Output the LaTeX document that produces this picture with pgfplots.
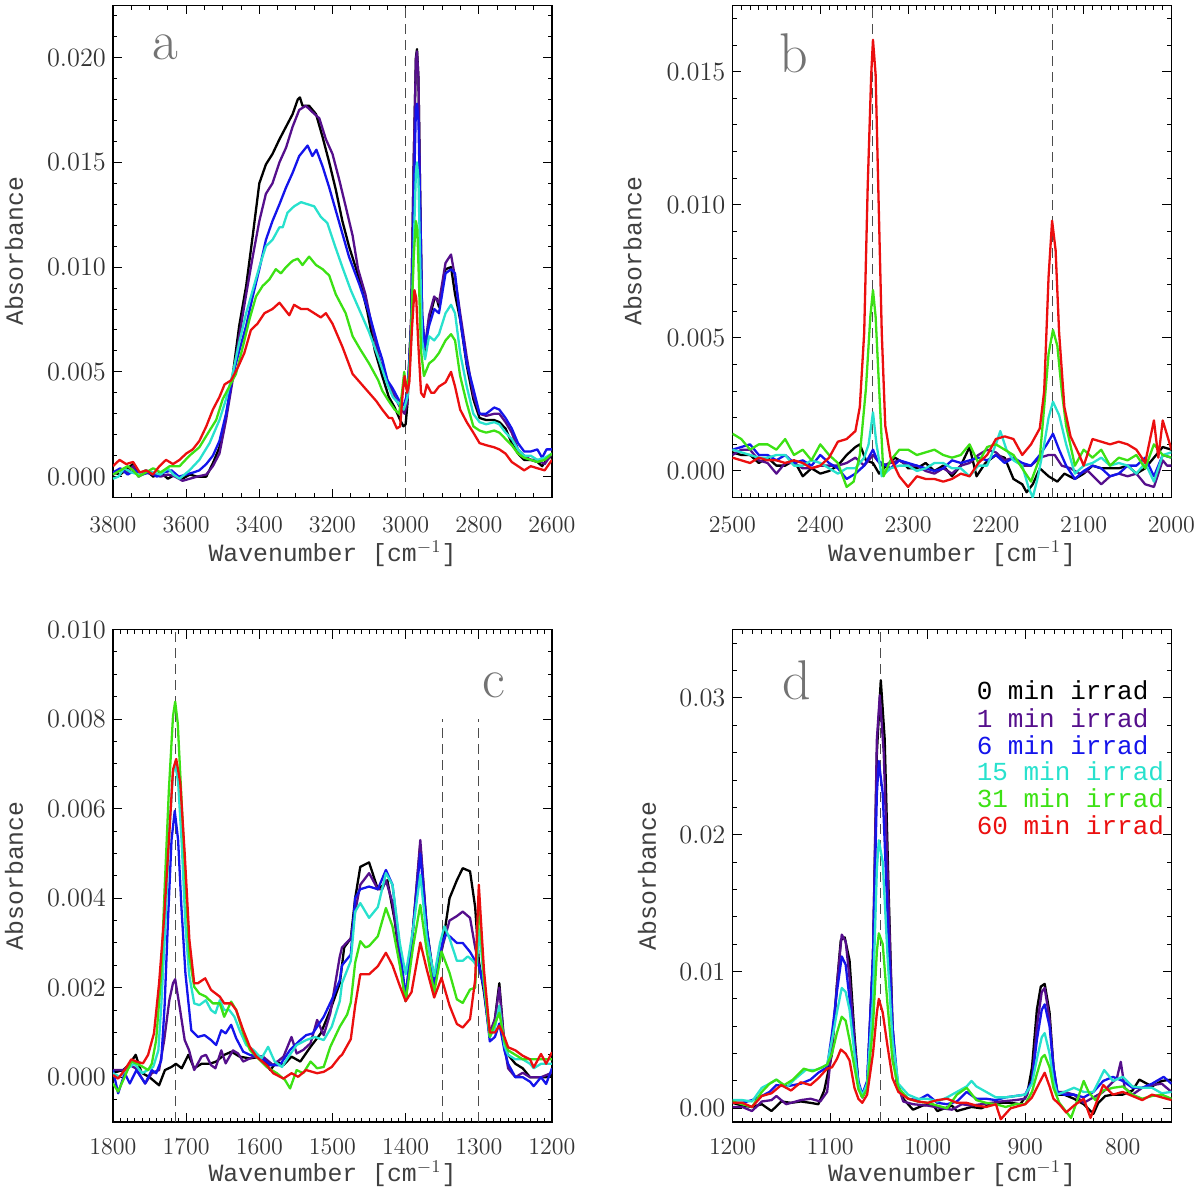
\documentclass[border=0pt]{standalone}
\usepackage{fontspec}
\newfontfamily\lmono{Liberation Mono}
\usepackage{pgfplots}
\pgfplotsset{compat=1.18}
\definecolor{cBlack}{RGB}{0,0,0}
\definecolor{cPurple}{RGB}{85,15,140}
\definecolor{cBlue}{RGB}{20,20,235}
\definecolor{cCyan}{RGB}{40,225,205}
\definecolor{cGreen}{RGB}{60,225,20}
\definecolor{cRed}{RGB}{235,15,15}
\tikzset{plab/.style={font=\fontsize{28}{30}\selectfont, text=black!55, inner sep=0pt}}
\pgfplotsset{
  spec/.style={
    scale only axis, width=219.5pt, height=246.2pt, x dir=reverse,
    axis line style={line width=0.6pt},
    tick style={black, line width=0.5pt},
    major tick length=4.5pt, minor tick length=2.2pt,
    tick align=inside,
    scaled y ticks=false, scaled x ticks=false,
    /pgf/number format/1000 sep={},
    ticklabel style={font=\fontsize{13.2}{15}\selectfont, text=black!80},
    label style={font=\lmono\fontsize{12.4}{14}\selectfont, text=black!75},
    every axis plot/.append style={line width=1.15pt, line join=round, no markers},
    clip=true,
  },
  dashline/.style={black!70, line width=0.5pt, dash pattern=on 5pt off 3pt, forget plot},
}
\begin{document}
\begin{tikzpicture}
\path[use as bounding box] (0,0) rectangle (600pt,597pt);
% ---------------- panel a
\begin{axis}[spec, at={(56.5pt,348.2pt)}, anchor=south west,
  xmin=2600, xmax=3800, ymin=-0.001, ymax=0.0225,
  xtick={2600,2800,3000,3200,3400,3600,3800},
  minor xtick={2650,2700,2750,2850,2900,2950,3050,3100,3150,3250,3300,3350,3450,3500,3550,3650,3700,3750},
  ytick={0,0.005,0.01,0.015,0.02}, yticklabels={0.000,0.005,0.010,0.015,0.020},
  minor ytick={-0.001,0.001,0.002,0.003,0.004,0.006,0.007,0.008,0.009,0.011,0.012,0.013,0.014,0.016,0.017,0.018,0.019,0.021,0.022},
  xticklabel style={yshift=-6.2pt},
  xlabel={Wavenumber [cm$^{-1}$]}, ylabel={Absorbance},
  xlabel style={at={(axis description cs:0.5,-0.1137)}, anchor=center},
  ylabel style={at={(axis description cs:-0.2255,0.5)}, anchor=center},
]
\addplot[dashline] coordinates {(3000,-0.001) (3000,0.0225)};
\addplot[cBlack] coordinates {(3800,0.0002) (3780,0.0001) (3760,0.0004) (3745,0.0006) (3730,0.0001) (3710,0.0003) (3690,0.0) (3670,0.0002) (3650,-0.0001) (3630,0.0001) (3610,-0.0001) (3590,0.0001) (3570,0.0) (3545,0.0) (3527,0.00064) (3509,0.0014) (3491,0.0029) (3473,0.0048) (3455,0.0072) (3436,0.0091) (3418,0.0115) (3400,0.014) (3382,0.0149) (3364,0.0154) (3345,0.0161) (3327,0.0167) (3309,0.0173) (3295,0.018) (3289,0.0181) (3282,0.0177) (3264,0.0177) (3245,0.0173) (3227,0.0162) (3209,0.015) (3191,0.0137) (3173,0.0122) (3155,0.011) (3126,0.0094) (3105,0.0079) (3084,0.0060) (3064,0.0048) (3046,0.0038) (3030,0.0033) (3015,0.0027) (3006,0.0024) (3000,0.0025) (2995,0.0035) (2985,0.0075) (2978,0.015) (2972,0.0200) (2969,0.0204) (2965,0.019) (2960,0.013) (2955,0.0075) (2948,0.0059) (2936,0.0075) (2922,0.00845) (2915,0.0085) (2909,0.0081) (2891,0.0099) (2876,0.0100) (2865,0.0087) (2851,0.0075) (2833,0.0053) (2815,0.0037) (2798,0.0028) (2780,0.0027) (2758,0.0027) (2744,0.0026) (2727,0.0023) (2710,0.0016) (2693,0.0011) (2676,0.0008) (2658,0.0008) (2640,0.0007) (2627,0.0005) (2615,0.0008) (2600,0.0010)};
\addplot[cPurple] coordinates {(3800,0.0001) (3780,0.0003) (3760,0.0002) (3745,0.0005) (3730,0.0000) (3710,0.0002) (3690,0.0001) (3670,0.0000) (3650,0.0001) (3630,0.0000) (3610,-0.0002) (3590,-0.0001) (3570,0.0000) (3545,0.0001) (3527,0.0005) (3509,0.0011) (3491,0.0027) (3473,0.0046) (3455,0.0067) (3436,0.0087) (3418,0.0105) (3400,0.0122) (3382,0.0135) (3364,0.014) (3345,0.015) (3327,0.0157) (3309,0.0167) (3291,0.0175) (3273,0.0177) (3255,0.0174) (3236,0.0171) (3218,0.0161) (3200,0.0154) (3182,0.0142) (3164,0.0129) (3145,0.0115) (3130,0.0099) (3110,0.0087) (3090,0.0070) (3070,0.0055) (3064,0.0053) (3046,0.0044) (3030,0.0038) (3015,0.0033) (3003,0.0030) (2995,0.0036) (2985,0.0075) (2978,0.015) (2972,0.0199) (2969,0.0203) (2965,0.019) (2960,0.013) (2955,0.0076) (2948,0.0061) (2936,0.0077) (2922,0.0086) (2909,0.0083) (2891,0.0102) (2876,0.0106) (2865,0.0095) (2851,0.0078) (2833,0.0057) (2815,0.0039) (2798,0.0030) (2780,0.0029) (2758,0.0030) (2744,0.0030) (2727,0.0026) (2710,0.0021) (2693,0.0013) (2676,0.0010) (2658,0.0008) (2640,0.0008) (2620,0.0006) (2600,0.0011)};
\addplot[cBlue] coordinates {(3800,0.0002) (3780,0.0004) (3760,0.0001) (3740,0.0003) (3720,0.0001) (3700,0.0002) (3680,0.0) (3660,0.0002) (3640,0.0003) (3620,0.0000) (3600,0.0001) (3580,0.0002) (3564,0.0003) (3545,0.0006) (3527,0.0010) (3509,0.0017) (3491,0.0030) (3473,0.0048) (3455,0.0060) (3436,0.0072) (3418,0.0086) (3400,0.0099) (3382,0.0113) (3364,0.0122) (3345,0.0130) (3327,0.0138) (3309,0.0145) (3291,0.0153) (3268,0.0158) (3255,0.0153) (3244,0.0156) (3227,0.0148) (3209,0.0138) (3191,0.0127) (3173,0.0116) (3155,0.0105) (3125,0.0091) (3100,0.0078) (3075,0.0062) (3064,0.0056) (3050,0.0046) (3035,0.0042) (3020,0.0037) (3005,0.0034) (2995,0.0040) (2985,0.0072) (2978,0.013) (2972,0.0176) (2969,0.0178) (2965,0.017) (2960,0.0125) (2955,0.0078) (2948,0.0062) (2936,0.0072) (2922,0.0080) (2909,0.0078) (2891,0.0097) (2876,0.0099) (2865,0.0097) (2851,0.0075) (2833,0.0054) (2815,0.0042) (2798,0.0030) (2780,0.0030) (2758,0.0033) (2744,0.0032) (2727,0.0028) (2710,0.0023) (2693,0.0016) (2676,0.0012) (2658,0.0012) (2640,0.0013) (2627,0.0009) (2615,0.0013) (2600,0.0013)};
\addplot[cCyan] coordinates {(3800,-0.0001) (3785,0.0) (3770,0.0004) (3750,0.0002) (3730,0.0001) (3710,0.0003) (3690,0.0002) (3670,0.0001) (3650,0.0004) (3635,0.0001) (3618,-0.0001) (3591,0.0003) (3564,0.0008) (3536,0.0016) (3509,0.0027) (3491,0.0037) (3473,0.0049) (3455,0.0064) (3436,0.0078) (3418,0.0089) (3400,0.0100) (3382,0.0110) (3364,0.0113) (3345,0.0119) (3336,0.0119) (3323,0.0126) (3305,0.0129) (3286,0.0131) (3268,0.0130) (3250,0.0129) (3232,0.0124) (3214,0.0121) (3195,0.0111) (3173,0.0100) (3150,0.0089) (3125,0.0079) (3100,0.0069) (3075,0.0057) (3050,0.0044) (3035,0.0038) (3020,0.0035) (3005,0.0032) (2995,0.0038) (2985,0.0065) (2978,0.011) (2972,0.0145) (2969,0.0150) (2965,0.0142) (2960,0.010) (2955,0.0065) (2947,0.0056) (2936,0.0067) (2922,0.0065) (2909,0.0068) (2891,0.0078) (2876,0.0082) (2865,0.0078) (2851,0.0059) (2833,0.0043) (2815,0.0030) (2798,0.0026) (2780,0.0025) (2758,0.0026) (2744,0.0025) (2727,0.0021) (2710,0.0018) (2693,0.0013) (2676,0.0010) (2658,0.0010) (2640,0.0008) (2620,0.0009) (2600,0.0011)};
\addplot[cGreen] coordinates {(3800,0.0001) (3780,0.0003) (3760,0.0005) (3745,0.0003) (3730,0.0) (3710,0.0002) (3690,0.0004) (3670,0.0002) (3645,0.0005) (3618,0.0005) (3591,0.0010) (3564,0.0014) (3536,0.0022) (3518,0.0027) (3500,0.0037) (3482,0.0043) (3464,0.0049) (3445,0.0062) (3427,0.0075) (3409,0.0086) (3391,0.0091) (3373,0.0094) (3355,0.0099) (3341,0.0097) (3327,0.0100) (3309,0.0103) (3295,0.0104) (3282,0.0101) (3264,0.0105) (3245,0.0101) (3227,0.0099) (3209,0.0096) (3191,0.0087) (3164,0.0078) (3145,0.0067) (3125,0.0061) (3100,0.0054) (3075,0.0046) (3064,0.0041) (3046,0.0036) (3030,0.0032) (3018,0.0030) (3010,0.0040) (3004,0.0050) (2998,0.0042) (2990,0.0048) (2984,0.0075) (2978,0.0105) (2972,0.0122) (2968,0.0118) (2964,0.0095) (2958,0.0060) (2950,0.0048) (2936,0.0054) (2922,0.0056) (2909,0.0059) (2891,0.0065) (2876,0.0068) (2865,0.0065) (2851,0.0048) (2833,0.0035) (2815,0.0024) (2798,0.0022) (2780,0.0021) (2758,0.0022) (2744,0.0021) (2727,0.0018) (2710,0.0015) (2693,0.0011) (2676,0.0009) (2658,0.0008) (2640,0.0007) (2620,0.0008) (2600,0.0011)};
\addplot[cRed] coordinates {(3800,0.0005) (3782,0.0008) (3764,0.0006) (3745,0.0007) (3727,0.0002) (3709,0.0003) (3691,0.0001) (3673,0.0005) (3655,0.0008) (3636,0.0006) (3618,0.0008) (3600,0.0011) (3582,0.0013) (3564,0.0017) (3545,0.0024) (3527,0.0032) (3509,0.0038) (3495,0.0044) (3477,0.0046) (3459,0.0052) (3441,0.0059) (3423,0.0070) (3405,0.0073) (3386,0.0078) (3364,0.0080) (3345,0.0083) (3336,0.0081) (3318,0.0077) (3305,0.0082) (3286,0.0080) (3268,0.0080) (3250,0.0078) (3232,0.0076) (3218,0.0078) (3200,0.0073) (3173,0.0062) (3145,0.0049) (3125,0.0045) (3100,0.0040) (3080,0.0036) (3064,0.0032) (3046,0.0028) (3037,0.0028) (3024,0.0023) (3015,0.0024) (3008,0.0040) (3003,0.0048) (2996,0.0040) (2990,0.0045) (2983,0.0070) (2976,0.0089) (2971,0.0085) (2966,0.0065) (2958,0.0040) (2950,0.0038) (2942,0.0044) (2930,0.0040) (2922,0.0040) (2909,0.0043) (2891,0.0045) (2876,0.0050) (2865,0.0043) (2851,0.0032) (2833,0.0026) (2815,0.0021) (2798,0.0016) (2780,0.0015) (2758,0.0014) (2744,0.0013) (2727,0.0011) (2710,0.0007) (2693,0.0005) (2676,0.0003) (2658,0.0005) (2640,0.0004) (2620,0.0003) (2600,0.0008)};
\node[plab] at (axis cs:3657,0.0205) {a};
\end{axis}
% ---------------- panel b
\begin{axis}[spec, at={(366.25pt,348.2pt)}, anchor=south west,
  xmin=2000, xmax=2500, ymin=-0.001, ymax=0.0175,
  xtick={2000,2100,2200,2300,2400,2500},
  minor xtick={2010,2020,...,2490},
  ytick={0,0.005,0.01,0.015}, yticklabels={0.000,0.005,0.010,0.015},
  minor ytick={0.001,0.002,0.003,0.004,0.006,0.007,0.008,0.009,0.011,0.012,0.013,0.014,0.016,0.017},
  xticklabel style={yshift=-6.2pt},
  xlabel={Wavenumber [cm$^{-1}$]}, ylabel={Absorbance},
  xlabel style={at={(axis description cs:0.5,-0.1137)}, anchor=center},
  ylabel style={at={(axis description cs:-0.228,0.5)}, anchor=center},
]
\addplot[dashline] coordinates {(2340.5,-0.001) (2340.5,0.0175)};
\addplot[dashline] coordinates {(2135,-0.001) (2135,0.0175)};
\addplot[cBlack] coordinates {(2500,0.0007) (2490,0.0006) (2480,0.0006) (2470,0.0003) (2460,0.0005) (2450,0.0002) (2440,0.0002) (2430,0.0004) (2420,-0.0002) (2410,0.0001) (2400,-0.0001) (2390,0.0000) (2380,0.0002) (2370,0.0006) (2360,0.0009) (2355,0.0010) (2348,0.0004) (2340,0.0003) (2333,-0.0001) (2325,0.0002) (2315,0.0005) (2305,0.0003) (2300,0.0001) (2290,0.0001) (2280,0.0003) (2270,0.0000) (2260,0.0002) (2250,-0.0002) (2240,0.0002) (2230,0.0009) (2222,-0.0002) (2212,0.0003) (2200,0.0006) (2190,0.0005) (2180,-0.0003) (2170,-0.0005) (2165,-0.0008) (2158,-0.0005) (2150,0.0001) (2140,-0.0002) (2130,-0.0004) (2122,-0.0001) (2110,-0.0003) (2100,-0.0001) (2090,0.0002) (2080,0.0001) (2070,0.0001) (2060,0.0001) (2050,0.0002) (2040,-0.0001) (2030,0.0001) (2020,0.0005) (2010,0.0009) (2000,0.0008)};
\addplot[cPurple] coordinates {(2500,0.0006) (2490,0.0008) (2480,0.0008) (2470,0.0004) (2460,0.0003) (2450,-0.0001) (2440,0.0003) (2430,0.0003) (2420,0.0001) (2410,0.0001) (2400,0.0002) (2390,0.0002) (2380,0.0002) (2370,0.0003) (2360,0.0005) (2350,0.0002) (2340,0.0006) (2330,0.0002) (2320,0.0003) (2310,0.0004) (2300,0.0002) (2290,0.0002) (2280,0.0000) (2270,-0.0001) (2260,0.0001) (2250,-0.0001) (2240,0.0002) (2230,0.0003) (2220,0.0006) (2210,0.0008) (2200,0.0007) (2190,0.0004) (2180,0.0005) (2170,0.0002) (2160,0.0002) (2150,0.0005) (2140,0.0006) (2133,0.0006) (2125,0.0002) (2115,0.0001) (2105,-0.0001) (2095,0.0000) (2080,-0.0005) (2070,-0.0002) (2060,-0.0001) (2050,-0.0002) (2040,-0.0001) (2030,-0.0005) (2020,-0.0006) (2010,0.0004) (2005,0.0002) (2000,0.0002)};
\addplot[cBlue] coordinates {(2500,0.0008) (2490,0.0009) (2480,0.0010) (2470,0.0006) (2460,0.0006) (2450,0.0004) (2440,0.0006) (2430,0.0003) (2420,0.0004) (2410,0.0002) (2400,0.0006) (2390,0.0003) (2380,0.0001) (2370,-0.0003) (2360,-0.0001) (2350,0.0002) (2340,0.0008) (2335,0.0004) (2330,0.0003) (2320,0.0001) (2310,0.0004) (2300,0.0003) (2290,0.0002) (2280,0.0001) (2270,0.0000) (2260,0.0001) (2250,0.0004) (2240,0.0003) (2230,0.0004) (2220,0.0005) (2210,0.0004) (2200,0.0006) (2190,0.0003) (2180,0.0005) (2170,0.0003) (2160,0.0002) (2150,0.0006) (2142,0.0010) (2135,0.0014) (2128,0.0008) (2120,0.0002) (2110,-0.0003) (2100,0.0000) (2090,0.0002) (2080,0.0001) (2070,-0.0002) (2060,-0.0001) (2050,0.0002) (2040,0.0002) (2030,0.0005) (2020,-0.0002) (2010,0.0006) (2000,0.0005)};
\addplot[cCyan] coordinates {(2500,0.0008) (2490,0.0007) (2480,0.0006) (2470,0.0005) (2460,0.0005) (2450,0.0006) (2440,0.0006) (2430,0.0002) (2420,0.0002) (2410,0.0004) (2400,0.0003) (2390,0.0001) (2380,-0.0001) (2370,0.0001) (2360,0.0001) (2350,0.0005) (2345,0.0010) (2340,0.0022) (2336,0.0010) (2330,-0.0002) (2320,0.0001) (2310,0.0002) (2300,0.0002) (2290,0.0000) (2280,0.0001) (2270,0.0003) (2260,0.0003) (2250,0.0001) (2240,0.0001) (2230,-0.0002) (2220,0.0002) (2210,0.0002) (2200,0.0010) (2195,0.0015) (2188,0.0008) (2180,0.0004) (2170,0.0002) (2163,-0.0006) (2158,-0.0010) (2152,-0.0002) (2145,0.0010) (2140,0.0020) (2135,0.0026) (2128,0.0021) (2120,0.0010) (2110,-0.0001) (2100,0.0002) (2090,0.0003) (2080,0.0005) (2070,0.0002) (2060,0.0003) (2050,0.0002) (2040,-0.0001) (2030,0.0003) (2020,-0.0004) (2010,0.0006) (2000,0.0007)};
\addplot[cGreen] coordinates {(2500,0.0014) (2490,0.0012) (2480,0.0008) (2470,0.0010) (2460,0.0010) (2450,0.0008) (2440,0.0012) (2430,0.0006) (2420,0.0008) (2410,0.0004) (2400,0.0010) (2390,0.0006) (2380,0.0003) (2370,-0.0006) (2362,-0.0004) (2355,0.0006) (2348,0.0031) (2343,0.0058) (2340,0.0068) (2337,0.0058) (2333,0.0031) (2328,-0.0002) (2320,0.0004) (2310,0.0008) (2300,0.0008) (2290,0.0006) (2280,0.0007) (2270,0.0008) (2260,0.0006) (2250,0.0005) (2240,0.0006) (2230,0.0010) (2220,0.0003) (2210,0.0009) (2200,0.0010) (2190,0.0008) (2180,0.0006) (2170,0.0001) (2160,-0.0004) (2150,0.0005) (2145,0.0024) (2140,0.0044) (2135,0.0053) (2130,0.0047) (2125,0.0030) (2120,0.0017) (2110,0.0002) (2100,0.0008) (2090,0.0005) (2080,0.0008) (2070,0.0002) (2060,0.0005) (2050,0.0004) (2040,0.0006) (2030,0.0001) (2020,0.0010) (2010,0.0006) (2000,0.0005)};
\addplot[cRed] coordinates {(2500,0.0005) (2490,0.0004) (2480,0.0003) (2470,0.0005) (2460,0.0004) (2450,0.0004) (2440,0.0003) (2430,0.0004) (2420,0.0003) (2410,0.0001) (2400,0.0002) (2390,0.0005) (2380,0.0011) (2370,0.0012) (2360,0.0015) (2355,0.0024) (2350,0.0052) (2346,0.0107) (2342,0.0149) (2340,0.0162) (2337,0.0149) (2334,0.0107) (2330,0.0052) (2326,0.0017) (2320,0.0005) (2310,-0.0002) (2300,-0.0006) (2290,-0.0002) (2280,-0.0003) (2270,-0.0003) (2260,-0.0004) (2250,-0.0003) (2240,-0.0001) (2230,-0.0002) (2220,0.0003) (2210,0.0006) (2200,0.0012) (2190,0.0013) (2180,0.0012) (2170,0.0006) (2160,0.0010) (2150,0.0016) (2145,0.0030) (2140,0.0073) (2136,0.0094) (2132,0.0083) (2128,0.0052) (2122,0.0024) (2115,0.0013) (2105,0.0006) (2100,0.0002) (2090,0.0012) (2080,0.0011) (2070,0.0010) (2060,0.0011) (2050,0.0010) (2040,0.0008) (2030,0.0003) (2020,0.0019) (2015,0.0005) (2010,0.0019) (2000,0.0008)};
\node[plab] at (axis cs:2430,0.0157) {b};
\end{axis}
% ---------------- panel c
\begin{axis}[spec, at={(56.5pt,36pt)}, anchor=south west,
  xmin=1200, xmax=1800, ymin=-0.001, ymax=0.010,
  xtick={1200,1300,1400,1500,1600,1700,1800},
  minor xtick={1210,1220,...,1790},
  ytick={0,0.002,0.004,0.006,0.008,0.010}, yticklabels={0.000,0.002,0.004,0.006,0.008,0.010},
  minor ytick={-0.0005,0.0005,0.001,0.0015,0.0025,0.003,0.0035,0.0045,0.005,0.0055,0.0065,0.007,0.0075,0.0085,0.009,0.0095},
  xticklabel style={yshift=-5pt},
  xlabel={Wavenumber [cm$^{-1}$]}, ylabel={Absorbance},
  xlabel style={at={(axis description cs:0.5,-0.1056)}, anchor=center},
  ylabel style={at={(axis description cs:-0.2255,0.5)}, anchor=center},
]
\addplot[dashline] coordinates {(1715,-0.001) (1715,0.010)};
\addplot[dashline] coordinates {(1349,-0.001) (1349,0.0080)};
\addplot[dashline] coordinates {(1301,-0.001) (1301,0.0080)};
\addplot[cBlack] coordinates {(1800,0.0001) (1786,0.00016) (1777,0.0003) (1769,0.0005) (1761,0.0001) (1750,0.0000) (1737,-0.00018) (1729,0.00016) (1720,0.00023) (1714,0.0003) (1706,0.0002) (1697,0.0005) (1689,0.0002) (1679,0.0003) (1668,0.0003) (1659,0.00035) (1648,0.0005) (1638,0.00057) (1627,0.00046) (1613,0.00042) (1597,0.00046) (1585,0.00016) (1576,0.00035) (1567,0.00027) (1556,0.00046) (1544,0.00035) (1530,0.00068) (1516,0.00098) (1503,0.0015) (1490,0.0021) (1484,0.0029) (1475,0.0031) (1469,0.0040) (1462,0.0047) (1450,0.0048) (1438,0.0042) (1430,0.0043) (1425,0.0044) (1415,0.0035) (1408,0.0026) (1400,0.0017) (1390,0.0033) (1380,0.0052) (1371,0.0033) (1361,0.00215) (1350,0.0029) (1340,0.0040) (1330,0.0044) (1322,0.00467) (1312,0.0046) (1305,0.0038) (1300,0.0026) (1293,0.0019) (1285,0.0009) (1278,0.0013) (1272,0.0021) (1265,0.0007) (1260,0.0005) (1250,0.0003) (1240,0.0002) (1230,0.0) (1225,0.0) (1215,0.0) (1208,0.0) (1200,0.00005)};
\addplot[cPurple] coordinates {(1800,0.00016) (1786,0.00016) (1777,0.00027) (1769,0.0002) (1756,-0.00014) (1747,0.00009) (1737,0.00016) (1730,0.00083) (1723,0.00172) (1718,0.0021) (1715,0.00219) (1709,0.00158) (1702,0.00083) (1696,0.0006) (1689,0.00016) (1679,0.00046) (1673,0.0005) (1666,0.00027) (1660,0.0002) (1652,0.0006) (1646,0.00031) (1636,0.0006) (1629,0.00053) (1622,0.00035) (1608,0.00046) (1595,0.00046) (1581,0.00027) (1567,0.00046) (1556,0.0009) (1549,0.00053) (1540,0.00061) (1530,0.00076) (1521,0.00128) (1512,0.00094) (1503,0.00143) (1490,0.0027) (1487,0.0029) (1475,0.0031) (1469,0.0037) (1462,0.0043) (1450,0.00456) (1438,0.0042) (1432,0.0042) (1427,0.0044) (1418,0.0039) (1408,0.0027) (1400,0.0017) (1390,0.0033) (1380,0.0053) (1371,0.0033) (1361,0.0020) (1350,0.0029) (1340,0.0035) (1330,0.0036) (1322,0.0037) (1312,0.00356) (1305,0.0029) (1300,0.0025) (1293,0.0020) (1285,0.0010) (1278,0.0013) (1272,0.0020) (1265,0.0007) (1260,0.0002) (1250,0.0000) (1240,0.0001) (1230,0.0000) (1225,0.0) (1215,0.0) (1200,0.0001)};
\addplot[cBlue] coordinates {(1800,0.00016) (1793,-0.00036) (1784,0.00009) (1777,-0.00014) (1768,0.00016) (1756,-0.00014) (1747,0.00016) (1741,0.00009) (1734,0.00038) (1729.5,0.00158) (1725,0.00344) (1720,0.0053) (1715.6,0.00595) (1711,0.0053) (1706.5,0.00381) (1701,0.00232) (1693,0.00105) (1684,0.0009) (1675,0.00094) (1666,0.00083) (1659,0.00072) (1652,0.00105) (1646,0.00098) (1638.5,0.00117) (1631.6,0.00087) (1622,0.00057) (1613,0.0005) (1599,0.00046) (1585,0.00027) (1572,0.00027) (1558,0.00061) (1544,0.00083) (1536,0.00094) (1527,0.00098) (1512,0.00135) (1499,0.0018) (1490,0.00217) (1487,0.0025) (1475,0.00274) (1469,0.0040) (1462,0.0042) (1450,0.00426) (1438,0.0042) (1427,0.00463) (1418,0.0043) (1408,0.0029) (1400,0.0018) (1390,0.0033) (1380,0.0050) (1371,0.0033) (1361,0.0021) (1350,0.0030) (1345,0.0032) (1340,0.00315) (1330,0.0030) (1322,0.0030) (1312,0.0028) (1305,0.0026) (1300,0.0025) (1293,0.0020) (1285,0.0008) (1278,0.0009) (1272,0.0012) (1265,0.0006) (1260,0.0003) (1250,0.0) (1240,0.0) (1230,-0.0001) (1225,-0.0002) (1215,0.0) (1208,-0.00015) (1200,0.0002)};
\addplot[cCyan] coordinates {(1800,0.00009) (1791,0.00001) (1782,0.00016) (1771,0.00031) (1760,0.00009) (1745,0.00023) (1738,0.0006) (1734,0.0016) (1729,0.0032) (1723,0.0055) (1718,0.0068) (1715,0.0070) (1711,0.0066) (1706,0.0052) (1701,0.0034) (1696,0.0023) (1689,0.00165) (1682,0.00161) (1673,0.00172) (1666,0.0015) (1660,0.00143) (1654,0.00172) (1648,0.0015) (1641,0.0015) (1634,0.00135) (1627,0.00105) (1618,0.00072) (1608,0.00061) (1597,0.00042) (1588,0.00068) (1579,0.00035) (1569,0.00023) (1560,0.00046) (1549,0.00072) (1536,0.00083) (1524,0.0009) (1512,0.00083) (1501,0.00113) (1490,0.0017) (1487,0.0021) (1475,0.0026) (1469,0.0037) (1462,0.00389) (1450,0.00356) (1438,0.0038) (1427,0.00456) (1418,0.0043) (1408,0.0030) (1400,0.0023) (1390,0.0033) (1380,0.00452) (1371,0.0031) (1361,0.00226) (1353,0.0030) (1347,0.00337) (1340,0.0031) (1330,0.0026) (1322,0.0026) (1315,0.0027) (1308,0.0026) (1303,0.0025) (1299,0.0033) (1293,0.0021) (1285,0.0009) (1278,0.0011) (1272,0.0016) (1265,0.0007) (1260,0.0005) (1250,0.0004) (1240,0.0004) (1230,0.0003) (1225,0.0002) (1215,0.0003) (1200,0.0003)};
\addplot[cGreen] coordinates {(1800,-0.00014) (1793,-0.00032) (1784,0.00001) (1775,0.00035) (1768,0.00031) (1759,0.00023) (1752,0.00016) (1747,0.0003) (1741,0.00083) (1734,0.00232) (1729.5,0.00418) (1723.6,0.00642) (1718,0.00806) (1715,0.00839) (1711.5,0.00791) (1707,0.00642) (1701,0.00441) (1695.6,0.00269) (1689,0.00202) (1682,0.00187) (1673,0.0018) (1663.5,0.00165) (1654,0.00165) (1648,0.00135) (1638.5,0.00169) (1631.6,0.0015) (1622,0.00098) (1613,0.00061) (1604,0.00046) (1590,0.00023) (1576,0.00009) (1565,-0.00006) (1558,-0.00025) (1549,0.00016) (1540,0.00009) (1530,0.00035) (1521,0.0002) (1512,0.00023) (1503,0.00068) (1490,0.00113) (1480,0.0014) (1475,0.00167) (1469,0.00256) (1462,0.00304) (1455,0.0029) (1450,0.00293) (1438,0.00315) (1427,0.00378) (1418,0.00337) (1408,0.0025) (1400,0.0017) (1390,0.0029) (1380,0.00385) (1371,0.0028) (1361,0.00189) (1351,0.00281) (1340,0.00233) (1330,0.00174) (1322,0.00166) (1312,0.00196) (1305,0.0020) (1300,0.00393) (1293,0.0022) (1285,0.0009) (1278,0.0012) (1272,0.00144) (1265,0.0008) (1260,0.0006) (1250,0.0005) (1240,0.0004) (1230,0.0004) (1225,0.0004) (1215,0.0004) (1200,0.0004)};
\addplot[cRed] coordinates {(1800,0.00005) (1793,-0.00003) (1784,0.00016) (1775,0.0004) (1768,0.00035) (1759,0.00031) (1752,0.0005) (1744,0.00098) (1737,0.0021) (1730,0.00359) (1723,0.00545) (1718,0.00687) (1713.6,0.00711) (1708,0.00657) (1702,0.005) (1695.6,0.00307) (1689,0.0021) (1684,0.0021) (1674,0.00221) (1666,0.00195) (1654,0.0018) (1648,0.00165) (1638.5,0.00165) (1631.6,0.0015) (1622,0.00105) (1613,0.00068) (1604,0.00046) (1590,0.00027) (1581,0.00009) (1567,-0.00003) (1556,0.00009) (1547,0.00001) (1536,0.00016) (1521,0.00009) (1512,0.00012) (1501,0.00023) (1490,0.00046) (1487,0.0005) (1475,0.00085) (1469,0.0016) (1462,0.0023) (1450,0.0023) (1438,0.00248) (1427,0.00278) (1418,0.0025) (1408,0.00204) (1400,0.0017) (1392,0.0019) (1380,0.00301) (1371,0.0024) (1361,0.00178) (1351,0.00222) (1340,0.0016) (1330,0.00119) (1322,0.00111) (1312,0.0013) (1305,0.00218) (1300,0.0043) (1296,0.0032) (1293,0.0024) (1285,0.0010) (1278,0.0010) (1272,0.00115) (1265,0.0009) (1260,0.00067) (1250,0.0006) (1240,0.00048) (1230,0.0004) (1225,0.00022) (1215,0.00052) (1208,0.0003) (1200,0.00056)};
\node[plab] at (axis cs:1280,0.00876) {c};
\end{axis}
% ---------------- panel d
\begin{axis}[spec, at={(366.25pt,36pt)}, anchor=south west,
  xmin=750, xmax=1200, ymin=-0.001, ymax=0.035,
  xtick={800,900,1000,1100,1200},
  minor xtick={760,770,...,1190},
  ytick={0,0.01,0.02,0.03}, yticklabels={0.00,0.01,0.02,0.03},
  minor ytick={0.002,0.004,0.006,0.008,0.012,0.014,0.016,0.018,0.022,0.024,0.026,0.028,0.032,0.034},
  xticklabel style={yshift=-5pt},
  xlabel={Wavenumber [cm$^{-1}$]}, ylabel={Absorbance},
  xlabel style={at={(axis description cs:0.5,-0.1056)}, anchor=center},
  ylabel style={at={(axis description cs:-0.195,0.5)}, anchor=center},
]
\addplot[dashline] coordinates {(1048,-0.001) (1048,0.035)};
\addplot[cBlack] coordinates {(1200,0.0004) (1190,0.0002) (1180,0.0001) (1170,0.0003) (1160,-0.0002) (1150,0.0005) (1140,0.0004) (1130,0.0005) (1120,0.0004) (1112,0.0003) (1106,0.0013) (1098,0.0040) (1093,0.0090) (1089,0.0123) (1085,0.0125) (1080,0.0108) (1075,0.0054) (1071,0.0018) (1067,0.0008) (1062,0.0015) (1056,0.0110) (1052,0.0260) (1048,0.0313) (1044,0.0270) (1040,0.0160) (1036,0.0060) (1032,0.0020) (1025,0.0007) (1015,-0.0001) (1005,0.0002) (995,0.0003) (990,-0.0002) (975,0.0002) (970,-0.0002) (955,0.0001) (945,0.0) (935,0.0003) (925,0.0004) (915,0.0004) (905,0.0003) (898,0.0010) (893,0.0030) (888,0.0072) (884,0.0089) (880,0.0091) (875,0.0070) (871,0.0030) (867,0.0010) (860,0.0010) (850,0.0007) (840,0.0003) (830,-0.0004) (825,0.0004) (818,0.0009) (810,0.0010) (800,0.0010) (790,0.0013) (783,0.0021) (770,0.0016) (760,0.0020) (750,0.0021)};
\addplot[cPurple] coordinates {(1200,0.0001) (1190,0.0001) (1180,-0.0002) (1170,0.0005) (1160,0.0006) (1155,0.0009) (1145,0.0003) (1130,0.0006) (1120,0.0007) (1110,0.0005) (1103,0.0012) (1098,0.0045) (1093,0.0090) (1088,0.0127) (1084,0.0122) (1080,0.0095) (1075,0.0050) (1071,0.0018) (1067,0.0008) (1062,0.0015) (1056,0.0110) (1052,0.0270) (1049,0.0302) (1045,0.0260) (1040,0.0150) (1036,0.0060) (1032,0.0020) (1025,0.0005) (1015,0.0003) (1000,0.0002) (985,0.0000) (975,-0.0001) (965,0.0003) (955,0.0002) (945,0.0003) (935,0.0004) (925,0.0005) (910,0.0006) (900,0.0007) (893,0.0020) (888,0.0060) (883,0.0085) (880,0.0088) (875,0.0065) (871,0.0030) (867,0.0012) (860,0.0012) (850,0.0010) (840,0.0004) (830,0.0008) (820,0.0012) (812,0.0018) (806,0.0022) (802,0.0034) (798,0.0015) (790,0.0010) (780,0.0015) (770,0.0017) (760,0.0018) (750,0.0012)};
\addplot[cBlue] coordinates {(1200,0.0004) (1190,0.0004) (1180,0.0006) (1170,0.0009) (1162,0.0012) (1155,0.0017) (1145,0.0016) (1130,0.0018) (1120,0.0021) (1112,0.0026) (1103,0.0030) (1098,0.0055) (1093,0.0085) (1088,0.0111) (1084,0.0105) (1080,0.0080) (1075,0.0045) (1071,0.0020) (1067,0.0010) (1062,0.0020) (1056,0.0110) (1052,0.0230) (1050,0.0254) (1046,0.0230) (1041,0.0140) (1036,0.0060) (1030,0.0013) (1020,0.0007) (1010,0.0006) (1000,0.0010) (990,0.0004) (980,0.0003) (970,0.0005) (960,0.0012) (950,0.0007) (940,0.0007) (930,0.0006) (920,0.0008) (910,0.0009) (900,0.0010) (893,0.0020) (888,0.0050) (883,0.0072) (880,0.0076) (875,0.0060) (871,0.0030) (867,0.0012) (860,0.0010) (850,0.0010) (840,0.0008) (830,0.0012) (820,0.0020) (810,0.0023) (800,0.0020) (790,0.0015) (780,0.0015) (770,0.0018) (758,0.0023) (750,0.0018)};
\addplot[cCyan] coordinates {(1200,0.0006) (1190,0.0006) (1180,0.0005) (1170,0.0015) (1162,0.0018) (1155,0.0021) (1145,0.0015) (1135,0.0022) (1125,0.0028) (1115,0.0028) (1108,0.0030) (1103,0.0032) (1098,0.0050) (1093,0.0070) (1088,0.0088) (1084,0.0085) (1080,0.0072) (1075,0.0040) (1071,0.0018) (1067,0.0009) (1062,0.0018) (1056,0.0080) (1052,0.0175) (1050,0.0196) (1046,0.0180) (1041,0.0110) (1036,0.0050) (1030,0.0018) (1020,0.0010) (1010,0.0007) (1000,0.0007) (990,0.0005) (980,0.0008) (970,0.0012) (960,0.0016) (955,0.0020) (950,0.0016) (940,0.0012) (930,0.0008) (920,0.0008) (910,0.0009) (900,0.0010) (893,0.0018) (888,0.0036) (883,0.0052) (880,0.0055) (875,0.0040) (871,0.0020) (867,0.0010) (860,0.0012) (850,0.0015) (840,0.0012) (830,0.0012) (819,0.0028) (810,0.0020) (800,0.0023) (790,0.0016) (780,0.0015) (770,0.0015) (760,0.0011) (750,0.0012)};
\addplot[cGreen] coordinates {(1200,0.0005) (1190,0.0003) (1180,0.0001) (1170,0.0012) (1162,0.0018) (1155,0.0021) (1147,0.0017) (1138,0.0021) (1127,0.0029) (1118,0.0027) (1108,0.0030) (1103,0.0032) (1098,0.0040) (1093,0.0055) (1088,0.0067) (1084,0.0064) (1080,0.0050) (1075,0.0030) (1071,0.0014) (1067,0.0008) (1062,0.0014) (1056,0.0060) (1052,0.0115) (1050,0.0128) (1046,0.0120) (1041,0.0075) (1036,0.0035) (1030,0.0015) (1020,0.0007) (1010,0.0005) (1000,0.0004) (990,0.0002) (980,0.0) (970,0.0010) (960,0.0015) (950,0.0006) (940,0.0004) (930,0.0003) (920,0.0001) (910,0.0003) (900,0.0003) (893,0.0012) (888,0.0025) (883,0.0037) (880,0.0039) (875,0.0030) (871,0.0015) (865,0.0004) (853,-0.0007) (848,0.0003) (840,0.0020) (835,0.0012) (828,0.0006) (820,0.0013) (810,0.0015) (800,0.0016) (790,0.0010) (780,0.0007) (770,0.0009) (760,0.0010) (750,0.0007)};
\addplot[cRed] coordinates {(1200,0.0004) (1190,0.0004) (1180,0.0001) (1170,0.0009) (1160,0.0011) (1150,0.0017) (1140,0.0013) (1130,0.0019) (1120,0.0017) (1112,0.0022) (1103,0.0029) (1098,0.0030) (1093,0.0036) (1089,0.0043) (1084,0.0040) (1080,0.0035) (1075,0.0015) (1071,0.0007) (1067,0.0004) (1062,0.0010) (1056,0.0040) (1052,0.0070) (1050,0.0080) (1046,0.0070) (1041,0.0045) (1036,0.0022) (1030,0.0012) (1020,0.0007) (1010,0.0005) (1000,0.0004) (990,0.0006) (980,0.0007) (970,0.0004) (960,0.0004) (950,0.0002) (940,0.0001) (930,0.0003) (925,-0.0008) (915,0.0) (900,0.0003) (893,0.0008) (888,0.0015) (883,0.0022) (880,0.0026) (875,0.0016) (871,0.0007) (865,0.0003) (858,-0.0003) (850,0.0002) (840,0.0007) (833,-0.0007) (826,0.0006) (820,0.0017) (810,0.0010) (800,0.0012) (790,0.0009) (780,0.0006) (770,0.0010) (760,0.0008) (750,0.0006)};
\node[plab] at (axis cs:1134,0.0313) {d};
\begin{scope}[every node/.style={anchor=west, inner sep=0pt, font=\lmono\fontsize{13}{15}\selectfont}]
\node[text=cBlack] at (axis cs:950,0.03058) {0 min irrad};
\node[text=cPurple] at (axis cs:950,0.02851) {1 min irrad};
\node[text=cBlue] at (axis cs:950,0.02656) {6 min irrad};
\node[text=cCyan] at (axis cs:950,0.02461) {15 min irrad};
\node[text=cGreen] at (axis cs:950,0.02266) {31 min irrad};
\node[text=cRed] at (axis cs:950,0.02071) {60 min irrad};
\end{scope}
\end{axis}
\end{tikzpicture}
\end{document}
